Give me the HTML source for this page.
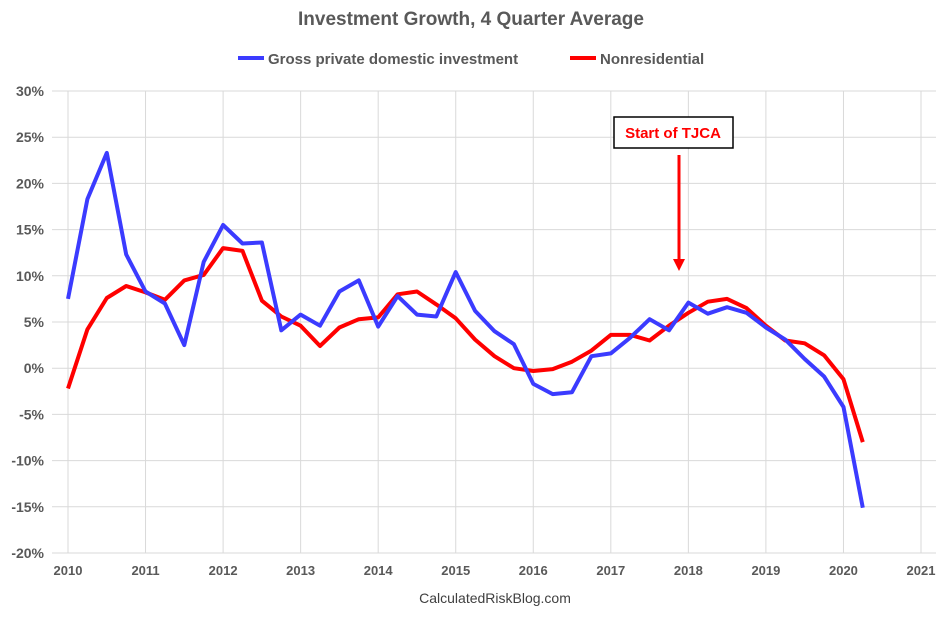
<!DOCTYPE html>
<html><head><meta charset="utf-8"><style>
body{margin:0;background:#fff;font-family:"Liberation Sans",sans-serif;}
</style></head><body>
<svg id="chart" width="942" height="619" xmlns="http://www.w3.org/2000/svg">
<rect width="942" height="619" fill="#fff"/>
<text x="471" y="25" text-anchor="middle" font-size="19" font-weight="bold" fill="#595959">Investment Growth, 4 Quarter Average</text>
<g>
<g><line x1="238" y1="58" x2="264" y2="58" stroke="#3b3bff" stroke-width="4"/><text x="268" y="64" font-size="15" font-weight="bold" fill="#595959">Gross private domestic investment</text></g>
<g><line x1="570" y1="58" x2="596" y2="58" stroke="#ff0000" stroke-width="4"/><text x="600" y="64" font-size="15" font-weight="bold" fill="#595959">Nonresidential</text></g>
</g>
<g id="grid"></g><g id="axes"></g><g id="series"></g>
<g>
<rect x="614" y="117" width="119" height="31" fill="#fff" stroke="#000" stroke-width="1.5"/>
<text x="673" y="138" text-anchor="middle" font-size="15" font-weight="bold" fill="#ff0000">Start of TJCA</text>
<line x1="679" y1="155" x2="679" y2="260" stroke="#ff0000" stroke-width="3"/>
<polygon points="673,259 685,259 679,271" fill="#ff0000"/>
</g>
<text x="495" y="603" text-anchor="middle" font-size="14" fill="#404040">CalculatedRiskBlog.com</text>
</svg>
<script>
const yTicks=[30,25,20,15,10,5,0,-5,-10,-15,-20];
const xTicks=[2010,2011,2012,2013,2014,2015,2016,2017,2018,2019,2020,2021];
const startYear=2010;
const grossValues=[7.5,18.3,23.3,12.3,8.3,7.0,2.5,11.5,15.5,13.5,13.6,4.1,5.8,4.6,8.3,9.5,4.5,7.8,5.8,5.6,10.4,6.2,4.0,2.6,-1.7,-2.8,-2.6,1.3,1.6,3.3,5.3,4.1,7.1,5.9,6.6,6.0,4.4,3.1,1.0,-0.9,-4.2,-15.1];
const nonresValues=[-2.2,4.2,7.6,8.9,8.2,7.4,9.5,10.1,13.0,12.7,7.3,5.6,4.6,2.4,4.4,5.3,5.5,8.0,8.3,6.9,5.4,3.1,1.3,0.0,-0.3,-0.1,0.7,1.9,3.6,3.6,3.0,4.6,6.0,7.2,7.5,6.5,4.6,3.0,2.7,1.4,-1.2,-8.0];
const NS="http://www.w3.org/2000/svg";
const X0=68,X1=921,Y0=91,Y1=553;
function xs(t){return X0+(t-2010)*(X1-X0)/11;}
function ys(v){return Y0+(30-v)*(Y1-Y0)/50;}
function mk(tag,attrs,parent){const e=document.createElementNS(NS,tag);for(const k in attrs)e.setAttribute(k,attrs[k]);parent.appendChild(e);return e;}
const grid=document.getElementById('grid'),axes=document.getElementById('axes'),series=document.getElementById('series');
yTicks.forEach(v=>{
 const l=mk('line',{x1:52,x2:936,y1:ys(v),y2:ys(v),stroke:'#d9d9d9','stroke-width':1},grid);
 
 
 const t=mk('text',{x:44,y:ys(v)+5,'text-anchor':'end','font-size':14,'font-weight':'bold',fill:'#595959'},axes);
 t.textContent=v+'%';
 
 
});
xTicks.forEach(yr=>{
 const l=mk('line',{x1:xs(yr),x2:xs(yr),y1:Y0,y2:Y1,stroke:'#d9d9d9','stroke-width':1},grid);
 
 
 const t=mk('text',{x:xs(yr),y:Y1+22,'text-anchor':'middle','font-size':13,'font-weight':'bold',fill:'#595959'},axes);
 t.textContent=yr;
 
 
});
function line(vals,color,name){
 const pts=vals.map((v,i)=>xs(startYear+i*0.25).toFixed(1)+','+ys(v).toFixed(1)).join(' ');
 const p=mk('polyline',{points:pts,fill:'none',stroke:color,'stroke-width':4,'stroke-linejoin':'round'},series);
 
 
}
line(nonresValues,'#ff0000','nonresidential-line');
line(grossValues,'#3b3bff','gross-investment-line');
</script>
</body></html>
